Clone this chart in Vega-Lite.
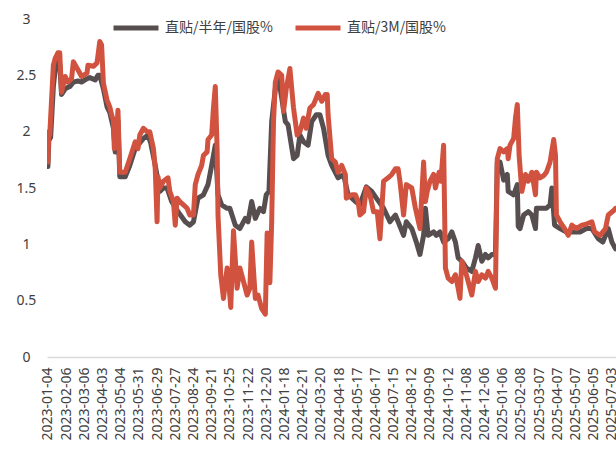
{
  "$schema": "https://vega.github.io/schema/vega-lite/v6.json",
  "autosize": {"type": "none"},
  "padding": {"left": 47, "top": 19, "right": 0, "bottom": 100},
  "width": 569,
  "height": 338,
  "background": "white",
  "config": {"view": {"stroke": null}, "font": "Noto Sans"},
  "datasets": {
    "rates": [
      {"s":"直贴/半年/国股%","t":0,"v":1.69},{"s":"直贴/半年/国股%","t":1,"v":1.92},{"s":"直贴/半年/国股%","t":3,"v":1.95},{"s":"直贴/半年/国股%","t":6,"v":2.40},{"s":"直贴/半年/国股%","t":8,"v":2.55},{"s":"直贴/半年/国股%","t":11,"v":2.62},{"s":"直贴/半年/国股%","t":13,"v":2.60},{"s":"直贴/半年/国股%","t":15,"v":2.33},{"s":"直贴/半年/国股%","t":19,"v":2.38},{"s":"直贴/半年/国股%","t":24,"v":2.40},{"s":"直贴/半年/国股%","t":28,"v":2.44},{"s":"直贴/半年/国股%","t":33,"v":2.45},{"s":"直贴/半年/国股%","t":37,"v":2.44},{"s":"直贴/半年/国股%","t":43,"v":2.47},{"s":"直贴/半年/国股%","t":46,"v":2.48},{"s":"直贴/半年/国股%","t":52,"v":2.46},{"s":"直贴/半年/国股%","t":55,"v":2.50},{"s":"直贴/半年/国股%","t":57,"v":2.50},{"s":"直贴/半年/国股%","t":61,"v":2.38},{"s":"直贴/半年/国股%","t":65,"v":2.22},{"s":"直贴/半年/国股%","t":68,"v":2.17},{"s":"直贴/半年/国股%","t":72,"v":2.03},{"s":"直贴/半年/国股%","t":74,"v":1.82},{"s":"直贴/半年/国股%","t":77,"v":2.10},{"s":"直贴/半年/国股%","t":79,"v":1.60},{"s":"直贴/半年/国股%","t":85,"v":1.60},{"s":"直贴/半年/国股%","t":90,"v":1.70},{"s":"直贴/半年/国股%","t":96,"v":1.85},{"s":"直贴/半年/国股%","t":101,"v":1.90},{"s":"直贴/半年/国股%","t":105,"v":1.94},{"s":"直贴/半年/国股%","t":110,"v":1.97},{"s":"直贴/半年/国股%","t":113,"v":1.90},{"s":"直贴/半年/国股%","t":118,"v":1.70},{"s":"直贴/半年/国股%","t":123,"v":1.47},{"s":"直贴/半年/国股%","t":127,"v":1.50},{"s":"直贴/半年/国股%","t":131,"v":1.50},{"s":"直贴/半年/国股%","t":136,"v":1.38},{"s":"直贴/半年/国股%","t":143,"v":1.29},{"s":"直贴/半年/国股%","t":151,"v":1.20},{"s":"直贴/半年/国股%","t":156,"v":1.17},{"s":"直贴/半年/国股%","t":160,"v":1.20},{"s":"直贴/半年/国股%","t":165,"v":1.41},{"s":"直贴/半年/国股%","t":171,"v":1.44},{"s":"直贴/半年/国股%","t":176,"v":1.53},{"s":"直贴/半年/国股%","t":180,"v":1.70},{"s":"直贴/半年/国股%","t":184,"v":1.88},{"s":"直贴/半年/国股%","t":187,"v":1.44},{"s":"直贴/半年/国股%","t":191,"v":1.35},{"s":"直贴/半年/国股%","t":197,"v":1.32},{"s":"直贴/半年/国股%","t":200,"v":1.32},{"s":"直贴/半年/国股%","t":206,"v":1.17},{"s":"直贴/半年/国股%","t":211,"v":1.14},{"s":"直贴/半年/国股%","t":217,"v":1.23},{"s":"直贴/半年/国股%","t":220,"v":1.20},{"s":"直贴/半年/国股%","t":224,"v":1.38},{"s":"直贴/半年/国股%","t":228,"v":1.23},{"s":"直贴/半年/国股%","t":233,"v":1.32},{"s":"直贴/半年/国股%","t":237,"v":1.29},{"s":"直贴/半年/国股%","t":240,"v":1.44},{"s":"直贴/半年/国股%","t":243,"v":1.47},{"s":"直贴/半年/国股%","t":246,"v":2.09},{"s":"直贴/半年/国股%","t":250,"v":2.38},{"s":"直贴/半年/国股%","t":253,"v":2.50},{"s":"直贴/半年/国股%","t":257,"v":2.30},{"s":"直贴/半年/国股%","t":261,"v":2.09},{"s":"直贴/半年/国股%","t":264,"v":2.06},{"s":"直贴/半年/国股%","t":270,"v":1.76},{"s":"直贴/半年/国股%","t":274,"v":1.79},{"s":"直贴/半年/国股%","t":277,"v":1.97},{"s":"直贴/半年/国股%","t":281,"v":1.91},{"s":"直贴/半年/国股%","t":286,"v":1.88},{"s":"直贴/半年/国股%","t":290,"v":2.09},{"s":"直贴/半年/国股%","t":295,"v":2.15},{"s":"直贴/半年/国股%","t":299,"v":2.15},{"s":"直贴/半年/国股%","t":303,"v":2.03},{"s":"直贴/半年/国股%","t":308,"v":1.79},{"s":"直贴/半年/国股%","t":312,"v":1.70},{"s":"直贴/半年/国股%","t":319,"v":1.59},{"s":"直贴/半年/国股%","t":325,"v":1.62},{"s":"直贴/半年/国股%","t":330,"v":1.44},{"s":"直贴/半年/国股%","t":338,"v":1.38},{"s":"直贴/半年/国股%","t":343,"v":1.35},{"s":"直贴/半年/国股%","t":350,"v":1.51},{"s":"直贴/半年/国股%","t":356,"v":1.47},{"s":"直贴/半年/国股%","t":361,"v":1.41},{"s":"直贴/半年/国股%","t":369,"v":1.32},{"s":"直贴/半年/国股%","t":376,"v":1.20},{"s":"直贴/半年/国股%","t":382,"v":1.26},{"s":"直贴/半年/国股%","t":385,"v":1.20},{"s":"直贴/半年/国股%","t":391,"v":1.08},{"s":"直贴/半年/国股%","t":394,"v":1.20},{"s":"直贴/半年/国股%","t":400,"v":1.14},{"s":"直贴/半年/国股%","t":405,"v":1.02},{"s":"直贴/半年/国股%","t":409,"v":0.91},{"s":"直贴/半年/国股%","t":413,"v":1.08},{"s":"直贴/半年/国股%","t":415,"v":1.32},{"s":"直贴/半年/国股%","t":418,"v":1.08},{"s":"直贴/半年/国股%","t":424,"v":1.11},{"s":"直贴/半年/国股%","t":427,"v":1.08},{"s":"直贴/半年/国股%","t":431,"v":1.11},{"s":"直贴/半年/国股%","t":435,"v":1.02},{"s":"直贴/半年/国股%","t":440,"v":1.05},{"s":"直贴/半年/国股%","t":444,"v":1.11},{"s":"直贴/半年/国股%","t":448,"v":1.02},{"s":"直贴/半年/国股%","t":451,"v":0.88},{"s":"直贴/半年/国股%","t":455,"v":0.85},{"s":"直贴/半年/国股%","t":460,"v":0.79},{"s":"直贴/半年/国股%","t":466,"v":0.76},{"s":"直贴/半年/国股%","t":470,"v":0.88},{"s":"直贴/半年/国股%","t":473,"v":0.99},{"s":"直贴/半年/国股%","t":477,"v":0.85},{"s":"直贴/半年/国股%","t":481,"v":0.91},{"s":"直贴/半年/国股%","t":484,"v":0.88},{"s":"直贴/半年/国股%","t":488,"v":0.91},{"s":"直贴/半年/国股%","t":492,"v":0.91},{"s":"直贴/半年/国股%","t":494,"v":1.73},{"s":"直贴/半年/国股%","t":497,"v":1.73},{"s":"直贴/半年/国股%","t":501,"v":1.57},{"s":"直贴/半年/国股%","t":505,"v":1.62},{"s":"直贴/半年/国股%","t":506,"v":1.47},{"s":"直贴/半年/国股%","t":512,"v":1.44},{"s":"直贴/半年/国股%","t":516,"v":1.53},{"s":"直贴/半年/国股%","t":517,"v":1.16},{"s":"直贴/半年/国股%","t":519,"v":1.14},{"s":"直贴/半年/国股%","t":523,"v":1.26},{"s":"直贴/半年/国股%","t":528,"v":1.29},{"s":"直贴/半年/国股%","t":532,"v":1.26},{"s":"直贴/半年/国股%","t":536,"v":1.14},{"s":"直贴/半年/国股%","t":537,"v":1.32},{"s":"直贴/半年/国股%","t":543,"v":1.32},{"s":"直贴/半年/国股%","t":548,"v":1.32},{"s":"直贴/半年/国股%","t":552,"v":1.35},{"s":"直贴/半年/国股%","t":554,"v":1.50},{"s":"直贴/半年/国股%","t":557,"v":1.17},{"s":"直贴/半年/国股%","t":563,"v":1.14},{"s":"直贴/半年/国股%","t":570,"v":1.11},{"s":"直贴/半年/国股%","t":577,"v":1.11},{"s":"直贴/半年/国股%","t":585,"v":1.11},{"s":"直贴/半年/国股%","t":592,"v":1.14},{"s":"直贴/半年/国股%","t":598,"v":1.14},{"s":"直贴/半年/国股%","t":605,"v":1.05},{"s":"直贴/半年/国股%","t":610,"v":1.02},{"s":"直贴/半年/国股%","t":616,"v":1.14},{"s":"直贴/半年/国股%","t":620,"v":1.02},{"s":"直贴/半年/国股%","t":624,"v":0.96},
      {"s":"直贴/3M/国股%","t":0,"v":1.73},{"s":"直贴/3M/国股%","t":1,"v":2.00},{"s":"直贴/3M/国股%","t":2,"v":1.97},{"s":"直贴/3M/国股%","t":6,"v":2.59},{"s":"直贴/3M/国股%","t":8,"v":2.65},{"s":"直贴/3M/国股%","t":11,"v":2.70},{"s":"直贴/3M/国股%","t":13,"v":2.70},{"s":"直贴/3M/国股%","t":15,"v":2.35},{"s":"直贴/3M/国股%","t":19,"v":2.49},{"s":"直贴/3M/国股%","t":22,"v":2.44},{"s":"直贴/3M/国股%","t":26,"v":2.47},{"s":"直贴/3M/国股%","t":28,"v":2.62},{"s":"直贴/3M/国股%","t":33,"v":2.55},{"s":"直贴/3M/国股%","t":37,"v":2.49},{"s":"直贴/3M/国股%","t":43,"v":2.52},{"s":"直贴/3M/国股%","t":44,"v":2.59},{"s":"直贴/3M/国股%","t":50,"v":2.58},{"s":"直贴/3M/国股%","t":54,"v":2.61},{"s":"直贴/3M/国股%","t":57,"v":2.80},{"s":"直贴/3M/国股%","t":59,"v":2.77},{"s":"直贴/3M/国股%","t":61,"v":2.43},{"s":"直贴/3M/国股%","t":65,"v":2.28},{"s":"直贴/3M/国股%","t":68,"v":2.22},{"s":"直贴/3M/国股%","t":70,"v":2.15},{"s":"直贴/3M/国股%","t":72,"v":2.10},{"s":"直贴/3M/国股%","t":73,"v":1.85},{"s":"直贴/3M/国股%","t":75,"v":1.90},{"s":"直贴/3M/国股%","t":77,"v":2.19},{"s":"直贴/3M/国股%","t":79,"v":1.64},{"s":"直贴/3M/国股%","t":85,"v":1.64},{"s":"直贴/3M/国股%","t":90,"v":1.76},{"s":"直贴/3M/国股%","t":96,"v":1.91},{"s":"直贴/3M/国股%","t":99,"v":1.85},{"s":"直贴/3M/国股%","t":101,"v":1.97},{"s":"直贴/3M/国股%","t":105,"v":2.03},{"s":"直贴/3M/国股%","t":109,"v":2.00},{"s":"直贴/3M/国股%","t":112,"v":2.00},{"s":"直贴/3M/国股%","t":116,"v":1.85},{"s":"直贴/3M/国股%","t":118,"v":1.67},{"s":"直贴/3M/国股%","t":120,"v":1.20},{"s":"直贴/3M/国股%","t":121,"v":1.60},{"s":"直贴/3M/国股%","t":123,"v":1.50},{"s":"直贴/3M/国股%","t":127,"v":1.56},{"s":"直贴/3M/国股%","t":132,"v":1.59},{"s":"直贴/3M/国股%","t":134,"v":1.47},{"s":"直贴/3M/国股%","t":138,"v":1.38},{"s":"直贴/3M/国股%","t":140,"v":1.17},{"s":"直贴/3M/国股%","t":142,"v":1.41},{"s":"直贴/3M/国股%","t":145,"v":1.38},{"s":"直贴/3M/国股%","t":149,"v":1.35},{"s":"直贴/3M/国股%","t":153,"v":1.32},{"s":"直贴/3M/国股%","t":156,"v":1.26},{"s":"直贴/3M/国股%","t":160,"v":1.26},{"s":"直贴/3M/国股%","t":162,"v":1.53},{"s":"直贴/3M/国股%","t":165,"v":1.62},{"s":"直贴/3M/国股%","t":169,"v":1.70},{"s":"直贴/3M/国股%","t":171,"v":1.79},{"s":"直贴/3M/国股%","t":175,"v":1.82},{"s":"直贴/3M/国股%","t":176,"v":1.93},{"s":"直贴/3M/国股%","t":180,"v":1.97},{"s":"直贴/3M/国股%","t":182,"v":2.21},{"s":"直贴/3M/国股%","t":184,"v":2.40},{"s":"直贴/3M/国股%","t":186,"v":1.85},{"s":"直贴/3M/国股%","t":187,"v":1.26},{"s":"直贴/3M/国股%","t":190,"v":0.73},{"s":"直贴/3M/国股%","t":193,"v":0.52},{"s":"直贴/3M/国股%","t":197,"v":0.79},{"s":"直贴/3M/国股%","t":198,"v":0.75},{"s":"直贴/3M/国股%","t":201,"v":0.44},{"s":"直贴/3M/国股%","t":204,"v":1.12},{"s":"直贴/3M/国股%","t":208,"v":0.61},{"s":"直贴/3M/国股%","t":211,"v":0.79},{"s":"直贴/3M/国股%","t":215,"v":0.67},{"s":"直贴/3M/国股%","t":219,"v":0.55},{"s":"直贴/3M/国股%","t":222,"v":0.61},{"s":"直贴/3M/国股%","t":224,"v":1.02},{"s":"直贴/3M/国股%","t":228,"v":0.52},{"s":"直贴/3M/国股%","t":231,"v":0.55},{"s":"直贴/3M/国股%","t":235,"v":0.43},{"s":"直贴/3M/国股%","t":239,"v":0.38},{"s":"直贴/3M/国股%","t":241,"v":1.10},{"s":"直贴/3M/国股%","t":244,"v":0.66},{"s":"直贴/3M/国股%","t":246,"v":1.20},{"s":"直贴/3M/国股%","t":248,"v":2.09},{"s":"直贴/3M/国股%","t":250,"v":2.44},{"s":"直贴/3M/国股%","t":253,"v":2.53},{"s":"直贴/3M/国股%","t":257,"v":2.50},{"s":"直贴/3M/国股%","t":259,"v":2.18},{"s":"直贴/3M/国股%","t":262,"v":2.38},{"s":"直贴/3M/国股%","t":266,"v":2.56},{"s":"直贴/3M/国股%","t":270,"v":2.21},{"s":"直贴/3M/国股%","t":274,"v":1.97},{"s":"直贴/3M/国股%","t":277,"v":2.00},{"s":"直贴/3M/国股%","t":281,"v":2.12},{"s":"直贴/3M/国股%","t":284,"v":2.03},{"s":"直贴/3M/国股%","t":288,"v":2.21},{"s":"直贴/3M/国股%","t":292,"v":2.24},{"s":"直贴/3M/国股%","t":297,"v":2.34},{"s":"直贴/3M/国股%","t":301,"v":2.27},{"s":"直贴/3M/国股%","t":305,"v":2.33},{"s":"直贴/3M/国股%","t":307,"v":2.33},{"s":"直贴/3M/国股%","t":308,"v":2.15},{"s":"直贴/3M/国股%","t":312,"v":1.76},{"s":"直贴/3M/国股%","t":316,"v":1.73},{"s":"直贴/3M/国股%","t":319,"v":1.64},{"s":"直贴/3M/国股%","t":323,"v":1.70},{"s":"直贴/3M/国股%","t":327,"v":1.62},{"s":"直贴/3M/国股%","t":328,"v":1.41},{"s":"直贴/3M/国股%","t":334,"v":1.44},{"s":"直贴/3M/国股%","t":338,"v":1.44},{"s":"直贴/3M/国股%","t":341,"v":1.38},{"s":"直贴/3M/国股%","t":343,"v":1.26},{"s":"直贴/3M/国股%","t":347,"v":1.29},{"s":"直贴/3M/国股%","t":350,"v":1.50},{"s":"直贴/3M/国股%","t":354,"v":1.44},{"s":"直贴/3M/国股%","t":358,"v":1.29},{"s":"直贴/3M/国股%","t":362,"v":1.29},{"s":"直贴/3M/国股%","t":365,"v":1.05},{"s":"直贴/3M/国股%","t":369,"v":1.56},{"s":"直贴/3M/国股%","t":374,"v":1.59},{"s":"直贴/3M/国股%","t":378,"v":1.62},{"s":"直贴/3M/国股%","t":382,"v":1.67},{"s":"直贴/3M/国股%","t":385,"v":1.67},{"s":"直贴/3M/国股%","t":387,"v":1.56},{"s":"直贴/3M/国股%","t":391,"v":1.26},{"s":"直贴/3M/国股%","t":394,"v":1.53},{"s":"直贴/3M/国股%","t":400,"v":1.50},{"s":"直贴/3M/国股%","t":404,"v":1.32},{"s":"直贴/3M/国股%","t":409,"v":1.14},{"s":"直贴/3M/国股%","t":413,"v":1.73},{"s":"直贴/3M/国股%","t":415,"v":1.38},{"s":"直贴/3M/国股%","t":417,"v":1.47},{"s":"直贴/3M/国股%","t":420,"v":1.56},{"s":"直贴/3M/国股%","t":424,"v":1.62},{"s":"直贴/3M/国股%","t":426,"v":1.50},{"s":"直贴/3M/国股%","t":430,"v":1.64},{"s":"直贴/3M/国股%","t":432,"v":1.56},{"s":"直贴/3M/国股%","t":435,"v":1.88},{"s":"直贴/3M/国股%","t":437,"v":0.79},{"s":"直贴/3M/国股%","t":440,"v":0.70},{"s":"直贴/3M/国股%","t":444,"v":0.67},{"s":"直贴/3M/国股%","t":448,"v":0.73},{"s":"直贴/3M/国股%","t":451,"v":0.61},{"s":"直贴/3M/国股%","t":453,"v":0.52},{"s":"直贴/3M/国股%","t":455,"v":0.85},{"s":"直贴/3M/国股%","t":459,"v":0.76},{"s":"直贴/3M/国股%","t":462,"v":0.67},{"s":"直贴/3M/国股%","t":466,"v":0.55},{"s":"直贴/3M/国股%","t":470,"v":0.76},{"s":"直贴/3M/国股%","t":473,"v":0.67},{"s":"直贴/3M/国股%","t":477,"v":0.73},{"s":"直贴/3M/国股%","t":481,"v":0.70},{"s":"直贴/3M/国股%","t":484,"v":0.76},{"s":"直贴/3M/国股%","t":488,"v":0.70},{"s":"直贴/3M/国股%","t":492,"v":0.61},{"s":"直贴/3M/国股%","t":494,"v":1.76},{"s":"直贴/3M/国股%","t":497,"v":1.85},{"s":"直贴/3M/国股%","t":501,"v":1.82},{"s":"直贴/3M/国股%","t":505,"v":1.85},{"s":"直贴/3M/国股%","t":506,"v":1.76},{"s":"直贴/3M/国股%","t":508,"v":1.88},{"s":"直贴/3M/国股%","t":512,"v":1.94},{"s":"直贴/3M/国股%","t":514,"v":2.12},{"s":"直贴/3M/国股%","t":516,"v":2.24},{"s":"直贴/3M/国股%","t":518,"v":1.79},{"s":"直贴/3M/国股%","t":521,"v":1.47},{"s":"直贴/3M/国股%","t":525,"v":1.62},{"s":"直贴/3M/国股%","t":528,"v":1.56},{"s":"直贴/3M/国股%","t":532,"v":1.64},{"s":"直贴/3M/国股%","t":536,"v":1.44},{"s":"直贴/3M/国股%","t":537,"v":1.64},{"s":"直贴/3M/国股%","t":541,"v":1.59},{"s":"直贴/3M/国股%","t":545,"v":1.61},{"s":"直贴/3M/国股%","t":548,"v":1.64},{"s":"直贴/3M/国股%","t":552,"v":1.73},{"s":"直贴/3M/国股%","t":556,"v":1.93},{"s":"直贴/3M/国股%","t":558,"v":1.79},{"s":"直贴/3M/国股%","t":559,"v":1.26},{"s":"直贴/3M/国股%","t":563,"v":1.20},{"s":"直贴/3M/国股%","t":568,"v":1.14},{"s":"直贴/3M/国股%","t":572,"v":1.08},{"s":"直贴/3M/国股%","t":576,"v":1.17},{"s":"直贴/3M/国股%","t":581,"v":1.14},{"s":"直贴/3M/国股%","t":587,"v":1.17},{"s":"直贴/3M/国股%","t":592,"v":1.18},{"s":"直贴/3M/国股%","t":598,"v":1.20},{"s":"直贴/3M/国股%","t":601,"v":1.11},{"s":"直贴/3M/国股%","t":607,"v":1.08},{"s":"直贴/3M/国股%","t":613,"v":1.14},{"s":"直贴/3M/国股%","t":616,"v":1.26},{"s":"直贴/3M/国股%","t":622,"v":1.30},{"s":"直贴/3M/国股%","t":624,"v":1.32}
    ]
  },
  "data": {"name": "rates"},
  "encoding": {
    "x": {
      "field": "t", "type": "quantitative",
      "scale": {"domain": [-1, 624.5], "nice": false, "zero": false},
      "axis": {
        "title": null, "grid": false, "ticks": false, "tickSize": 0,
        "domainColor": "#d9d9d9", "domainWidth": 1.5,
        "values": [0,20,40,60,80,100,120,140,160,180,200,220,240,260,280,300,320,340,360,380,400,420,440,460,480,500,520,540,560,580,600,620],
        "labelExpr": "['2023-01-04','2023-02-06','2023-03-06','2023-04-03','2023-05-04','2023-05-31','2023-06-29','2023-07-27','2023-08-24','2023-09-21','2023-10-25','2023-11-22','2023-12-20','2024-01-18','2024-02-21','2024-03-20','2024-04-18','2024-05-17','2024-06-17','2024-07-15','2024-08-12','2024-09-09','2024-10-12','2024-11-08','2024-12-06','2025-01-06','2025-02-08','2025-03-07','2025-04-07','2025-05-07','2025-06-05','2025-07-03'][round(datum.value/20)]",
        "labelAngle": -90, "labelFontSize": 14, "labelFont": "Noto Sans", "labelColor": "#404040",
        "labelPadding": 10, "labelOverlap": false, "labelBound": false, "labelFlush": false
      }
    },
    "y": {
      "field": "v", "type": "quantitative",
      "scale": {"domain": [0, 3], "nice": false},
      "axis": {
        "title": null, "grid": false, "domain": false, "ticks": false, "tickSize": 0,
        "values": [0, 0.5, 1, 1.5, 2, 2.5, 3], "format": "~g",
        "labelFontSize": 14, "labelFont": "Noto Sans", "labelColor": "#404040",
        "labelAlign": "center", "labelPadding": 21
      }
    },
    "color": {
      "field": "s", "type": "nominal",
      "scale": {"domain": ["直贴/半年/国股%", "直贴/3M/国股%"], "range": ["#574e50", "#d1533f"]},
      "legend": {
        "title": null, "orient": "none", "legendX": 64, "legendY": -16, "direction": "horizontal",
        "symbolType": "stroke", "symbolSize": 2025, "symbolStrokeWidth": 5,
        "labelFont": "Noto Sans CJK SC", "labelFontSize": 14, "labelColor": "#404040",
        "labelOffset": 4, "columnPadding": 12, "padding": 0
      }
    }
  },
  "layer": [
    {"transform": [{"filter": "datum.s === '直贴/半年/国股%'"}], "mark": {"type": "line", "strokeWidth": 5, "strokeCap": "round", "strokeJoin": "round", "clip": true}},
    {"transform": [{"filter": "datum.s === '直贴/3M/国股%'"}], "mark": {"type": "line", "strokeWidth": 5, "strokeCap": "round", "strokeJoin": "round", "clip": true}}
  ]
}
